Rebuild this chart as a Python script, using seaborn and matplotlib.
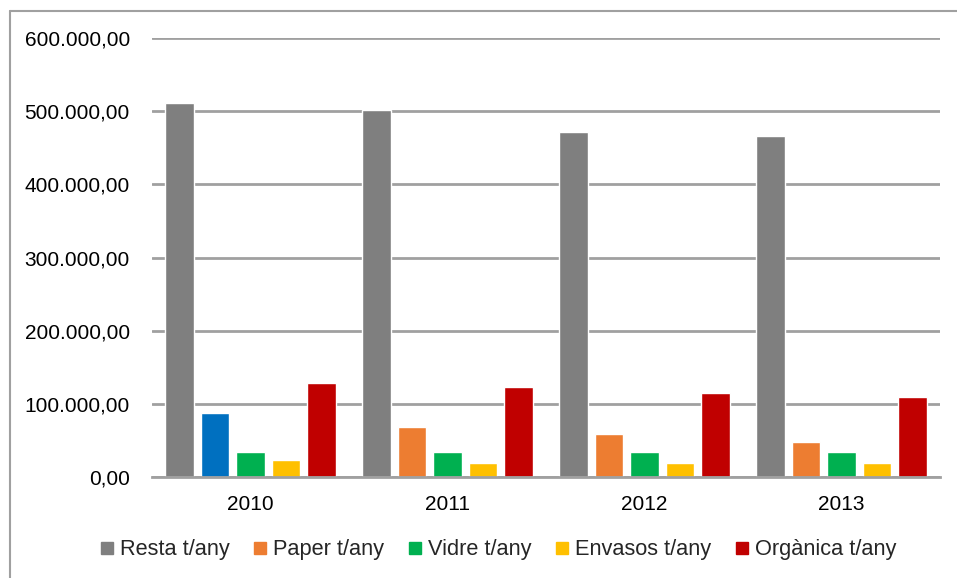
import matplotlib
matplotlib.use("Agg")
import matplotlib.pyplot as plt
import seaborn as sns
import pandas as pd
from matplotlib.lines import Line2D
from matplotlib.ticker import FuncFormatter

years = ["2010", "2011", "2012", "2013"]
series = ["Resta t/any", "Paper t/any", "Vidre t/any", "Envasos t/any", "Orgànica t/any"]
resta = [511000, 501400, 471300, 466000]
paper = [87400, 68300, 58700, 47800]
vidre = [34000, 34000, 34000, 34000]
envasos = [23000, 19000, 19000, 19000]
organica = [128400, 122900, 114700, 109300]
colors = ["#7f7f7f", "#ed7d31", "#00b050", "#ffc000", "#c00000"]

rows = []
for name, vals in zip(series, [resta, paper, vidre, envasos, organica]):
    for y, v in zip(years, vals):
        rows.append({"Any": y, "Serie": name, "Valor": v})
df = pd.DataFrame(rows)

sns.set_style("white")
plt.rcParams["font.family"] = ["Liberation Sans", "DejaVu Sans"]

fig = plt.figure(figsize=(9.57, 5.78), dpi=100)
ax = fig.add_axes([152 / 957, 1 - 477 / 578, (940 - 152) / 957, (477 - 38) / 578])

sns.barplot(data=df, x="Any", y="Valor", hue="Serie", hue_order=series,
            palette=colors, width=0.9, gap=0.2, ax=ax, legend=False,
            saturation=1)

# the 2010 paper bar is blue in the original
paper_bars = ax.containers[1]
paper_bars[0].set_facecolor("#0070c0")

ax.set_ylim(0, 600000)
ax.set_yticks(range(0, 600001, 100000))
ax.yaxis.set_major_formatter(FuncFormatter(
    lambda v, p: f"{v:,.2f}".replace(",", "X").replace(".", ",").replace("X", ".")))
ax.grid(axis="y", color="#a0a0a0", linewidth=2)
ax.set_axisbelow(True)
for s in ["left", "right", "top"]:
    ax.spines[s].set_visible(False)
ax.spines["bottom"].set_color("#a0a0a0")
ax.spines["bottom"].set_linewidth(2)
ax.tick_params(axis="both", length=0, labelsize=15, colors="black")
ax.tick_params(axis="y", pad=16)
ax.tick_params(axis="x", pad=13)
ax.set_xlabel("")
ax.set_ylabel("")

handles = [Line2D([], [], marker="s", linestyle="", color=c, markersize=9) for c in colors]
fig.legend(handles, series, loc="center", bbox_to_anchor=(0.520, 1 - 550 / 578),
           ncol=5, frameon=False, fontsize=15.7, handlelength=0.7, handletextpad=0.25,
           columnspacing=1.05)

# outer frame lines (top and left)
fig.add_artist(Line2D([10 / 957, 1], [1 - 11 / 578, 1 - 11 / 578], color="#a0a0a0", linewidth=1.5))
fig.add_artist(Line2D([10 / 957, 10 / 957], [0, 1 - 11 / 578], color="#a0a0a0", linewidth=1.5))

fig.savefig("out.png", dpi=100)
